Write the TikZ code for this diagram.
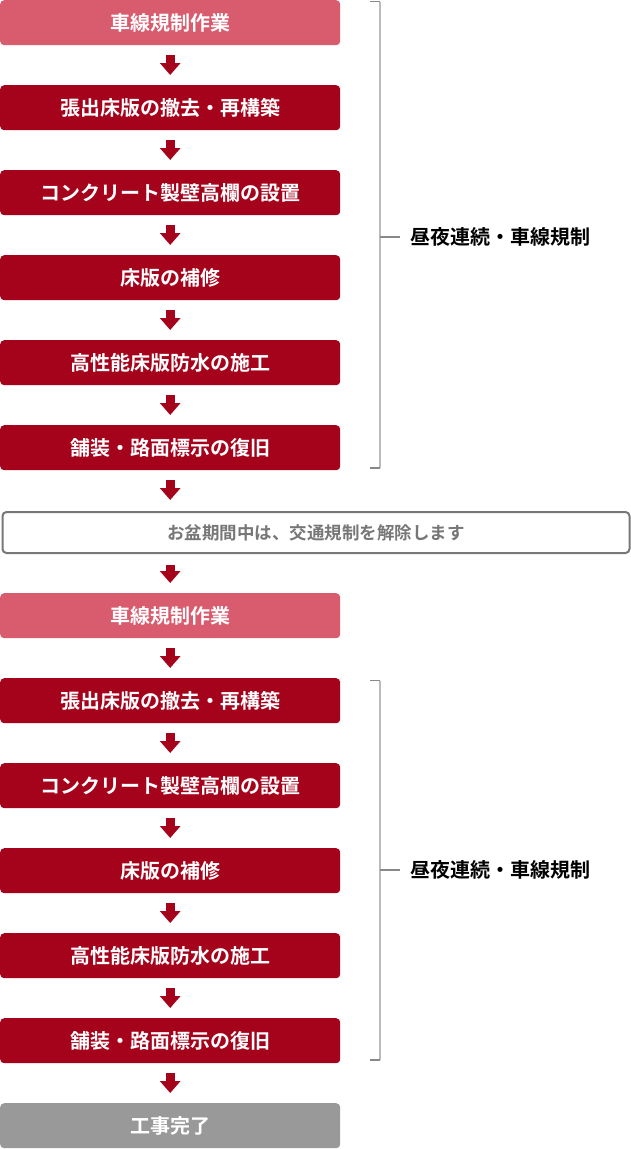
\documentclass[tikz,border=0pt]{standalone}
\usepackage{fontspec}
\setmainfont{Noto Sans CJK JP}[BoldFont={* Bold}]
\usetikzlibrary{arrows.meta,calc}
\definecolor{lightred}{HTML}{D95B6E}
\definecolor{darkred}{HTML}{A5031C}
\definecolor{donegray}{HTML}{999999}
\definecolor{notegray}{HTML}{777777}
\definecolor{brk}{HTML}{BBBBBB}
\definecolor{brktick}{HTML}{888888}
\begin{document}
\begin{tikzpicture}[x=1pt,y=-1pt,
  stepbox/.style={minimum width=340pt,minimum height=45pt,rounded corners=4pt,inner sep=0pt,
    text=white,font=\fontsize{20}{23}\selectfont\bfseries,anchor=north west},
  lightbox/.style={stepbox,fill=lightred},
  darkbox/.style={stepbox,fill=darkred},
  donebox/.style={stepbox,fill=donegray},
  notebox/.style={minimum width=627pt,minimum height=41pt,rounded corners=4pt,inner sep=0pt,
    draw=notegray,line width=2pt,fill=white,text=notegray,font=\fontsize{17.5}{20}\selectfont\bfseries,anchor=north west},
  flow/.style={draw=darkred,line width=9pt,-{Triangle[width=20pt,length=12pt]}},
  bracketline/.style={draw=brk,line width=2pt},
  bracketick/.style={draw=brktick,line width=1.2pt},
  bracketlabel/.style={anchor=west,inner sep=0pt,font=\fontsize{20}{23}\selectfont\bfseries,text=black}
]
\useasboundingbox (0,0) rectangle (630,1149);
\node[lightbox] (a1) at (0,0) {車線規制作業};
\node[darkbox] (a2) at (0,85) {張出床版の撤去・再構築};
\node[darkbox] (a3) at (0,170) {コンクリート製壁高欄の設置};
\node[darkbox] (a4) at (0,255) {床版の補修};
\node[darkbox] (a5) at (0,340) {高性能床版防水の施工};
\node[darkbox] (a6) at (0,425) {舗装・路面標示の復旧};
\node[notebox] (n) at (1.5,511) {お盆期間中は、交通規制を解除します};
\node[lightbox] (b1) at (0,593) {車線規制作業};
\node[darkbox] (b2) at (0,678) {張出床版の撤去・再構築};
\node[darkbox] (b3) at (0,763) {コンクリート製壁高欄の設置};
\node[darkbox] (b4) at (0,848) {床版の補修};
\node[darkbox] (b5) at (0,933) {高性能床版防水の施工};
\node[darkbox] (b6) at (0,1018) {舗装・路面標示の復旧};
\node[donebox] (c) at (0,1103) {工事完了};
\foreach \u/\v in {a1/a2,a2/a3,a3/a4,a4/a5,a5/a6,b1/b2,b2/b3,b3/b4,b4/b5,b5/b6,b6/c}{
  \draw[flow] ($(\u.south)+(0,9.5)$) -- ($(\v.north)+(0,-10)$);
}
\draw[flow] ($(a6.south)+(0,9.5)$) -- ($(a6.south |- n.north)+(0,-11)$);
\draw[flow] ($(b1.north |- n.south)+(0,11)$) -- ($(b1.north)+(0,-10)$);
% brackets
\coordinate (t1) at (370,1.5); \coordinate (u1) at (380,1.5);
\coordinate (v1) at (380,468); \coordinate (w1) at (370,468);
\draw[bracketline] (u1) -- (v1);
\draw[bracketick] (t1) -- (u1);
\draw[bracketick] (v1) -- (w1);
\node[bracketlabel] (l1) at (410,237) {昼夜連続・車線規制};
\coordinate (m1) at (380,237);
\draw[bracketick] (m1) -- ($(l1.west)+(-10,0)$);
\coordinate (t2) at (370,680.5); \coordinate (u2) at (380,680.5);
\coordinate (v2) at (380,1060); \coordinate (w2) at (370,1060);
\draw[bracketline] (u2) -- (v2);
\draw[bracketick] (t2) -- (u2);
\draw[bracketick] (v2) -- (w2);
\node[bracketlabel] (l2) at (410,870) {昼夜連続・車線規制};
\coordinate (m2) at (380,870);
\draw[bracketick] (m2) -- ($(l2.west)+(-10,0)$);
\end{tikzpicture}
\end{document}
